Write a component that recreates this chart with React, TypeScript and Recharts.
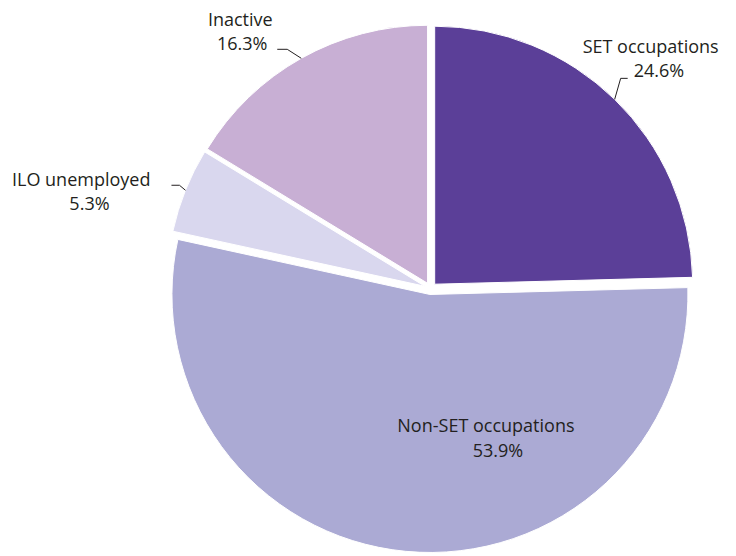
import React from 'react';
import { PieChart, Pie, Cell } from 'recharts';

const categories = ['SET occupations', 'Non-SET occupations', 'ILO unemployed', 'Inactive'];
const shares = [24.6, 53.9, 5.3, 16.3];
const percentLabels = ['24.6%', '53.9%', '5.3%', '16.3%'];
const colors = ['#5b3f98', '#abaad4', '#d9d7ee', '#c8afd4'];

const W = 736;
const H = 556;
const EXPLODE = 6;
const RAD = Math.PI / 180;
const FONT = '"Open Sans", sans-serif';
const TEXT_COLOR = '#231f20';

// leader (start -> knee -> end) and text line placement, relative to the slice
type LineSpec = { dx: number; dy: number; anchor: 'start' | 'middle' | 'end' };
type LabelSpec = {
  inside?: boolean;
  knee?: [number, number];
  tail?: number;
  lines: [LineSpec, LineSpec];
};

const labelSpecs: LabelSpec[] = [
  { knee: [6, -21], tail: 7, lines: [{ dx: -45, dy: -25, anchor: 'start' }, { dx: 6, dy: -1, anchor: 'start' }] },
  { inside: true, lines: [{ dx: 56, dy: 137.5, anchor: 'middle' }, { dx: 68, dy: 162.5, anchor: 'middle' }] },
  { knee: [-6, -5], tail: -8, lines: [{ dx: -21, dy: 1, anchor: 'end' }, { dx: -82, dy: 25, anchor: 'middle' }] },
  { knee: [-14, -9], tail: -10, lines: [{ dx: -37, dy: -23, anchor: 'middle' }, { dx: -35, dy: 1, anchor: 'middle' }] },
];

const data = categories.map((name, i) => ({ name, value: shares[i] }));

const total = shares.reduce((a, b) => a + b, 0);
const midAngles = shares.map((v, i) => {
  const before = shares.slice(0, i).reduce((a, b) => a + b, 0);
  return 90 - (360 * (before + v / 2)) / total;
});

const explodeOffset = (mid: number) => [EXPLODE * Math.cos(mid * RAD), -EXPLODE * Math.sin(mid * RAD)];

const renderLabel = (props: any) => {
  const { cx, cy, midAngle, outerRadius, index } = props;
  const spec = labelSpecs[index];
  const [ox, oy] = explodeOffset(midAngle);
  const ccx = cx + ox;
  const ccy = cy + oy;
  const lines = [categories[index], percentLabels[index]];

  if (spec.inside) {
    return (
      <g key={`lbl-${index}`}>
        {lines.map((t, j) => (
          <text
            key={j}
            x={ccx + spec.lines[j].dx}
            y={ccy + spec.lines[j].dy}
            textAnchor={spec.lines[j].anchor}
            fontFamily={FONT}
            fontSize={18}
            fill={TEXT_COLOR}
          >
            {t}
          </text>
        ))}
      </g>
    );
  }

  const sx = ccx + outerRadius * Math.cos(-midAngle * RAD);
  const sy = ccy + outerRadius * Math.sin(-midAngle * RAD);
  const kx = sx + spec.knee![0];
  const ky = sy + spec.knee![1];
  const ex = kx + spec.tail!;
  const ey = ky;

  return (
    <g key={`lbl-${index}`}>
      <polyline points={`${sx},${sy} ${kx},${ky} ${ex},${ey}`} fill="none" stroke="#231f20" strokeWidth={1} />
      {lines.map((t, j) => (
        <text
          key={j}
          x={ex + spec.lines[j].dx}
          y={ey + spec.lines[j].dy}
          textAnchor={spec.lines[j].anchor}
          fontFamily={FONT}
          fontSize={18}
          fill={TEXT_COLOR}
        >
          {t}
        </text>
      ))}
    </g>
  );
};

export default function App() {
  return (
    <div style={{ position: 'absolute', left: 0, top: 0, width: W, height: H, background: '#fff' }}>
      <PieChart width={W} height={H} margin={{ top: 0, right: 0, bottom: 0, left: 0 }}>
        <Pie
          data={data}
          dataKey="value"
          nameKey="name"
          cx={430.5}
          cy={288.5}
          outerRadius={258}
          startAngle={90}
          endAngle={-270}
          stroke="#fff"
          strokeWidth={1}
          label={renderLabel}
          labelLine={false}
          isAnimationActive={false}
        >
          {data.map((d, i) => {
            const [ox, oy] = explodeOffset(midAngles[i]);
            return <Cell key={d.name} fill={colors[i]} transform={`translate(${ox},${oy})`} />;
          })}
        </Pie>
      </PieChart>
    </div>
  );
}
